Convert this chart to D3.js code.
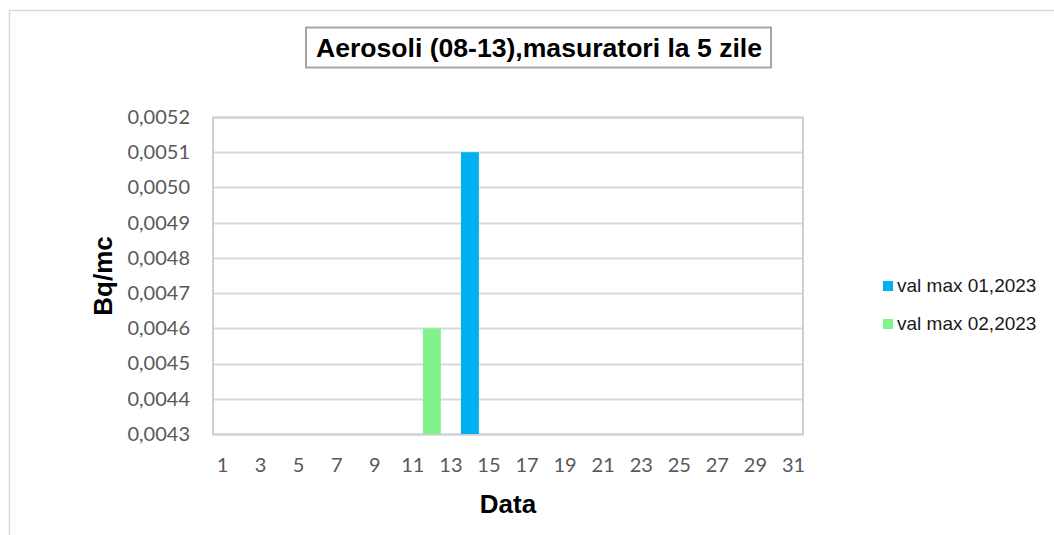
<!DOCTYPE html>
<html>
<head>
<meta charset="utf-8">
<script src="https://cdn.jsdelivr.net/npm/d3@7"></script>
<style>
  body { margin: 0; background: #fff; }
</style>
</head>
<body>
<div id="chart"></div>
<script>
(function () {
    var days = d3.range(1, 32);
    var seriesNames = ["val max 01,2023", "val max 02,2023"];
    var seriesColors = ["#00b0f0", "#80f28e"];
    // values per day, null where nothing was measured
    var valMax01 = [null, null, null, null, null, null, null, null, null, null,
        null, null, null, 0.0051, null, null, null, null, null, null,
        null, null, null, null, null, null, null, null, null, null, null];
    var valMax02 = [null, null, null, null, null, null, null, null, null, null,
        null, 0.0046, null, null, null, null, null, null, null, null,
        null, null, null, null, null, null, null, null, null, null, null];
    var yTicks = [0.0043, 0.0044, 0.0045, 0.0046, 0.0047, 0.0048, 0.0049, 0.0050, 0.0051, 0.0052];

    var width = 1054, height = 535;
    var margin = { left: 213, right: 251, top: 117, bottom: 101 };
    var arial = "'Liberation Sans', Arial, sans-serif";
    var tickFont = "Lato, 'Open Sans', sans-serif";

    var svg = d3.select("#chart").append("svg")
        .attr("width", width)
        .attr("height", height);

    // outer chart border
    svg.append("rect")
        .attr("x", 9.5).attr("y", 10.5)
        .attr("width", width + 20).attr("height", height + 20)
        .attr("fill", "none").attr("stroke", "#d9d9d9").attr("stroke-width", 1.5);

    // title box
    svg.append("rect")
        .attr("x", 306).attr("y", 27.5)
        .attr("width", 465).attr("height", 40)
        .attr("fill", "#fff").attr("stroke", "#a6a6a6").attr("stroke-width", 2);
    svg.append("text")
        .attr("x", 539).attr("y", 57)
        .attr("text-anchor", "middle")
        .style("font-family", arial)
        .attr("font-size", 26).attr("font-weight", "bold").attr("fill", "#000")
        .attr("textLength", 446).attr("lengthAdjust", "spacingAndGlyphs")
        .text("Aerosoli (08-13),masuratori la 5 zile");

    var x = d3.scaleBand()
        .domain(days)
        .range([margin.left, width - margin.right])
        .paddingInner(0.06)
        .paddingOuter(0.03);

    var y = d3.scaleLinear()
        .domain([0.0043, 0.0052])
        .range([height - margin.bottom, margin.top]);

    var fmt = function (d) { return d3.format(".4f")(d).replace(".", ","); };

    // gridlines
    svg.append("g").selectAll("line")
        .data(yTicks)
        .enter().append("line")
        .attr("x1", margin.left).attr("x2", width - margin.right)
        .attr("y1", function (d) { return Math.round(y(d)) + 0.5; })
        .attr("y2", function (d) { return Math.round(y(d)) + 0.5; })
        .attr("stroke", "#d9d9d9").attr("stroke-width", 2);

    // plot border
    svg.append("rect")
        .attr("x", margin.left).attr("y", Math.round(y(0.0052)) + 0.5)
        .attr("width", width - margin.right - margin.left)
        .attr("height", Math.round(y(0.0043)) - Math.round(y(0.0052)))
        .attr("fill", "none").attr("stroke", "#d0d0d0").attr("stroke-width", 2);

    // y axis
    var yAxis = svg.append("g")
        .attr("transform", "translate(" + margin.left + ",0)")
        .call(d3.axisLeft(y).tickValues(yTicks).tickFormat(fmt).tickSize(0).tickPadding(23));
    yAxis.select(".domain").remove();
    yAxis.selectAll("text")
        .style("font-family", tickFont)
        .attr("font-size", 20).attr("fill", "#595959");

    // x axis
    var xAxis = svg.append("g")
        .attr("transform", "translate(0," + (height - margin.bottom) + ")")
        .call(d3.axisBottom(x)
            .tickValues(days.filter(function (d) { return d % 2 === 1; }))
            .tickSize(0).tickPadding(24));
    xAxis.select(".domain").remove();
    xAxis.selectAll("text")
        .style("font-family", tickFont)
        .attr("font-size", 20).attr("fill", "#595959");

    // bars
    var series = [valMax01, valMax02];
    series.forEach(function (vals, i) {
        var pts = days.map(function (d, j) { return { day: d, v: vals[j] }; })
            .filter(function (p) { return p.v !== null; });
        svg.append("g").selectAll("rect")
            .data(pts)
            .enter().append("rect")
            .attr("x", function (p) { return x(p.day); })
            .attr("width", x.bandwidth())
            .attr("y", function (p) { return y(p.v); })
            .attr("height", function (p) { return y(0.0043) - y(p.v); })
            .attr("fill", seriesColors[i]);
    });

    // axis titles
    svg.append("text")
        .attr("transform", "translate(112,276) rotate(-90)")
        .attr("text-anchor", "middle")
        .style("font-family", arial)
        .attr("font-size", 26).attr("font-weight", "bold").attr("fill", "#000")
        .text("Bq/mc");
    svg.append("text")
        .attr("x", 508).attr("y", 513)
        .attr("text-anchor", "middle")
        .style("font-family", arial)
        .attr("font-size", 26).attr("font-weight", "bold").attr("fill", "#000")
        .text("Data");

    // legend
    var legend = svg.append("g").selectAll("g")
        .data(seriesNames)
        .enter().append("g")
        .attr("transform", function (d, i) { return "translate(883," + (281 + i * 38) + ")"; });
    legend.append("rect")
        .attr("width", 10).attr("height", 10)
        .attr("fill", function (d, i) { return seriesColors[i]; });
    legend.append("text")
        .attr("x", 14).attr("y", 11)
        .style("font-family", arial)
        .attr("font-size", 19).attr("fill", "#1a1a1a")
        .text(function (d) { return d; });
})();
</script>
</body>
</html>
